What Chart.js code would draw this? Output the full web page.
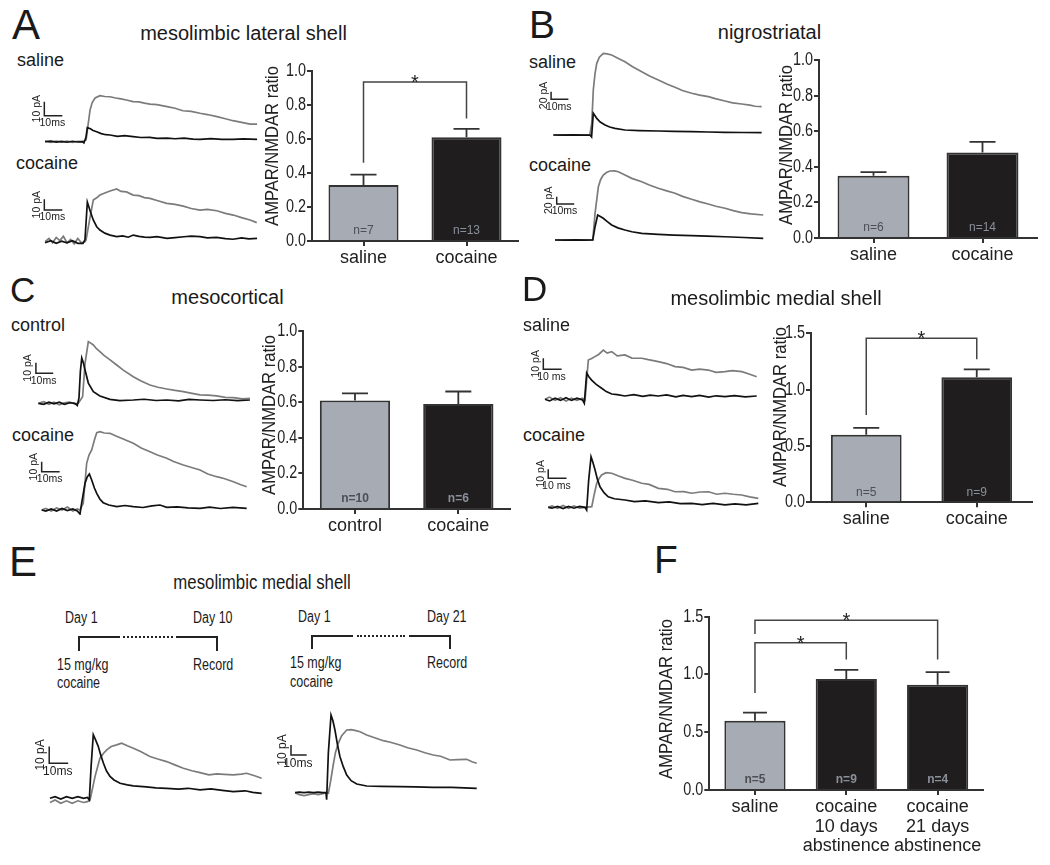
<!DOCTYPE html>
<html><head><meta charset="utf-8">
<script src="https://cdn.jsdelivr.net/npm/chart.js@4.4.1/dist/chart.umd.min.js"></script>
<style>
html,body{margin:0;padding:0;background:#fff;}
#fig{position:relative;width:1050px;height:865px;overflow:hidden;background:#fff;font-family:"Liberation Sans",Arial,Helvetica,sans-serif;color:#1a1a1a;}
#fig canvas{position:absolute;}
.t{position:absolute;white-space:nowrap;line-height:1;}
.ln{position:absolute;box-sizing:content-box;}
</style></head><body><div id="fig"></div>
<script>
// ---------------- BAR DATA ----------------
const A_LABELS = ['saline', 'cocaine'];
const A_VALUES = [0.33, 0.61];
const A_ERR = [0.06, 0.05];
const A_N = ['n=7', 'n=13'];
const A_SIG = [[0, 1, 0.935, 0.46, 0.72]];

const B_LABELS = ['saline', 'cocaine'];
const B_VALUES = [0.35, 0.48];
const B_ERR = [0.02, 0.06];
const B_N = ['n=6', 'n=14'];
const B_SIG = [];

const C_LABELS = ['control', 'cocaine'];
const C_VALUES = [0.61, 0.59];
const C_ERR = [0.04, 0.07];
const C_N = ['n=10', 'n=6'];
const C_SIG = [];

const D_LABELS = ['saline', 'cocaine'];
const D_VALUES = [0.60, 1.11];
const D_ERR = [0.06, 0.07];
const D_N = ['n=5', 'n=9'];
const D_SIG = [[0, 1, 1.455, 0.775, 1.27]];

const F_LABELS = ['saline', ['cocaine', '10 days', 'abstinence'], ['cocaine', '21 days', 'abstinence']];
const F_VALUES = [0.60, 0.96, 0.91];
const F_ERR = [0.07, 0.08, 0.11];
const F_N = ['n=5', 'n=9', 'n=4'];
const F_SIG = [[0, 1, 1.274, 0.84, 1.13], [0, 2, 1.47, 1.35, 1.13]];

const Y_AXIS_TITLE = 'AMPAR/NMDAR ratio';

// ---------------- TRACE DATA (time ms, current pA) ----------------
const A_SAL_GRAY = [[-22.2,0.3],[-19,-0.4],[-16,0.5],[-13,-0.3],[-10,0.4],[-7,-0.5],[-4,0.3],[-1.5,0],[0.6,1.2],[2.8,22.6],[4,28],[5.6,31.2],[8.3,32.9],[11,32.3],[13.9,32.1],[17,31.2],[20,30.6],[23,29.8],[26.7,28.6],[30,28.4],[33,27.5],[36.1,26.9],[40,26.5],[45.6,25.0],[50,23.9],[54.4,22.1],[59,21.6],[63.9,20.3],[68,19.4],[73.3,17.9],[78,16.4],[82.2,15.0],[87,13.8],[91.7,12.6],[95.6,12.6]];
const A_SAL_BLACK = [[-22.2,0],[-19,0.4],[-16,-0.3],[-13,0.2],[-10,-0.4],[-7,0.3],[-4,-0.2],[-1.5,0],[-0.6,-0.9],[0.5,3],[1.3,10.0],[3,9.2],[4.5,8],[6.5,7.1],[9,5.8],[11.5,5.0],[13.9,4.8],[18,3.8],[22,4.3],[26.7,3.6],[31,3.0],[36,3.1],[40,2.4],[45.6,2.6],[50,2.1],[55,2.5],[60,1.8],[63.9,1.7],[70,2.2],[76,1.6],[82.2,1.7],[88,2.0],[95.6,1.7]];
const A_COC_GRAY = [[-22.2,0],[-20,3],[-18,-1],[-16,4],[-14,1],[-12,5],[-10,-1],[-8,2],[-6,-2],[-4,3],[-2,-1],[0,0],[0.6,1.6],[2.5,20],[4.6,39.0],[6.5,41],[8.3,43.6],[11,45.5],[13.9,47.4],[17.6,49.3],[20,47],[23,46.5],[26.8,43.6],[30,43],[33,41.2],[36.1,40.5],[40,38.5],[45.4,35.8],[50,34.8],[54.6,33.3],[59,31],[63.9,29.6],[68,30.2],[73.2,28.9],[78,26.5],[82.4,24.9],[87,22.5],[91.7,20.3],[95.4,17.8]];
const A_COC_BLACK = [[-22.2,-1],[-19,1],[-16,-1.5],[-13,0.5],[-10,-1],[-7,1],[-4,-1.5],[-1.1,-1.5],[0,2],[1.3,37.1],[3,28],[4.6,20.3],[6.5,14],[8.3,10.9],[11,8],[13.9,6.2],[17.6,4.7],[21,5.5],[24,4.2],[26.8,6.2],[30,5],[33,4.3],[36.1,4.0],[40,4.8],[45.6,3.1],[50,3.8],[55,4.6],[59,5.2],[63.9,4.7],[68,3.5],[73,4.0],[78,2.9],[82.2,2.3],[87,3.5],[91,2.6],[95.6,3.1]];

const B_SAL_GRAY = [[-21.6,0],[-16,0.5],[-10,-0.3],[-5,0.4],[-0.5,0],[0.6,30],[1.5,117.5],[2.5,160],[3.5,187.2],[5,203],[7.3,213.3],[9.5,212],[12.1,209.0],[16,200],[19.8,191.4],[24,179],[29.5,165.3],[34,154],[39.1,143.6],[44,133],[48.7,124.5],[53,116],[58.4,108.9],[63,104],[68.0,100.1],[72,95],[77.6,88.8],[82,84],[87.3,80.9],[92,78],[95,75],[98.8,73.9]];
const B_SAL_BLACK = [[-21.6,0],[-16,-0.5],[-10,0.3],[-5,-0.4],[-0.5,0],[0.5,-5],[1.5,56.6],[2.5,50],[3.5,43.5],[5.5,34],[8.3,26.1],[11,21],[14.0,17.4],[19.8,13.1],[28,11.5],[39.1,10.4],[48,9.4],[58.4,8.6],[68,7.8],[77.6,7.0],[88,6.5],[98.8,6.0]];
const B_COC_GRAY = [[-21.9,0],[-16,0.4],[-10,-0.4],[-5,0.3],[-0.3,0],[1.0,72.7],[2.9,145.3],[4.2,165],[5.7,177.1],[7.5,184],[9.5,188.0],[12,188.5],[14.3,186.1],[18.1,177.1],[22,168],[27.7,158.9],[32,150],[37.1,140.9],[42,134],[46.7,127.3],[51,119],[56.2,110.9],[61,104],[65.7,98.1],[70,92],[75.3,86.4],[80,80],[84.8,74.6],[90,71],[97.1,68.1]];
const B_COC_BLACK = [[-21.9,0],[-16,-0.4],[-10,0.4],[-5,-0.3],[-0.3,0],[1.0,36.2],[2.5,68.1],[4,64],[5.7,59.1],[8,50],[10.5,40.9],[14,33],[18.1,27.2],[22,22.5],[27.7,18.2],[37.1,15.5],[46,13.5],[56.2,11.7],[65,10.3],[75.3,8.9],[86,6.8],[97.1,4.6]];

const C_CTL_GRAY = [[-23.1,0],[-20,1.5],[-17,-1],[-14,1],[-11,-1.5],[-8,0.5],[-5,1],[-2,-0.5],[0,0],[2.5,6.2],[3.9,37.4],[5.8,57.6],[7,56.5],[8.7,54.5],[10.5,51],[12.5,48.3],[15,44.5],[18,41],[22.2,35.8],[26,31],[31.8,24.9],[36,21],[41.4,17.1],[46,15],[51.1,13.4],[56,12],[60.7,10.9],[65,9.5],[70.3,7.8],[75,7.6],[79.9,6.9],[85,5.5],[89.6,5.3],[95,4.2],[99.2,4.7]];
const C_CTL_BLACK = [[-23.1,0],[-20,-1],[-17,1],[-14,-0.5],[-11,1],[-8,-1],[-5,0.5],[-2,0],[-0.6,-2],[0.4,5],[1.2,30],[2.0,42.3],[2.9,38],[3.9,31.1],[5.8,18.9],[8.7,10.9],[12.5,6.8],[18.3,3.7],[24,2.5],[31.8,3.1],[38,3.8],[45,2.6],[51.1,3.1],[58,2.2],[64,3.6],[70.3,3.1],[78,2.6],[85,3.3],[92,2.5],[99.2,3.1]];
const C_COC_GRAY = [[-21.3,0],[-19,1.5],[-16,-1],[-13,2],[-10,0],[-7,3],[-4,-1],[-1.5,1],[0,0],[1.8,6.7],[3.7,46.7],[5,55],[6.5,60],[8,70],[9.3,77.3],[11.1,78.3],[13.5,77],[16.7,76.7],[20,74],[24,71],[29.6,66.7],[34,62],[38.9,58.3],[43,55],[48.2,51.7],[52,48.5],[57.4,45],[62,42.5],[66.7,40],[71,36],[75.9,33.3],[80,31.5],[85.2,28.3],[89,25.5],[92.6,23.3]];
const C_COC_BLACK = [[-21.3,0],[-19,-1],[-16,1],[-13,-1],[-10,1.5],[-7,-0.5],[-4,1],[-1.5,-1],[0,-4],[0.9,6.7],[2.8,26.7],[4,33],[5.2,36],[6.5,30],[8,22],[9.3,16.7],[11,11],[12.9,7.3],[16,5],[20.4,3.3],[25,4.5],[29.6,3.3],[35,2.5],[40,4.2],[44.4,5],[48.2,2.7],[54,3.2],[60,2.1],[66.7,1.7],[72,2.8],[78,1.5],[85,2.6],[92.6,1.7]];

const D_SAL_GRAY = [[-21.5,0],[-19,2],[-16,-1],[-13,1.5],[-10,-1.5],[-7,1],[-4,-1],[-1,1],[0.4,-0.6],[2.2,35.7],[4,37],[5.8,38.8],[8,41],[10.4,44.8],[12.5,42],[15.0,43.3],[18,39.5],[22.2,40.3],[26,37.5],[31.4,37.3],[35,36],[40.4,34.3],[45,32.5],[49.6,29.7],[54,29],[58.7,26.6],[63,27.5],[67.8,26.6],[72,24.5],[76.9,25.1],[81,26],[86.1,25.1],[90,23],[94.2,20.5]];
const D_SAL_BLACK = [[-21.5,0],[-19,-1.5],[-16,1],[-13,-1],[-10,1.5],[-7,-1],[-4,1],[-1,-0.5],[0,-3.6],[1.3,23.9],[2.5,20.5],[4.0,17.5],[6.5,13.5],[9.5,10.0],[12,7],[15.0,4.8],[18,4.2],[22.2,3.0],[27,4.2],[32,2.6],[36,3.8],[40.4,3.0],[45,4.0],[50,2.2],[54,3.5],[58.7,2.4],[63,3.6],[68,2.0],[72,3.2],[76.9,2.4],[82,3.4],[88,2.2],[94.2,3.0]];
const D_COC_GRAY = [[-20.1,0],[-18,1.5],[-15,-1],[-12,2],[-9,-1],[-6,1.5],[-3,-1],[0,0],[3.7,0.7],[5,14],[6.4,26.7],[7.7,32],[9.1,35.9],[11.5,38.5],[14.6,37.8],[18,35],[21.9,32.2],[26,30],[31.0,26.7],[35,25.5],[40.1,21.1],[45,20],[49.2,17.3],[54,17.5],[58.3,15.6],[63,17],[67.5,17.3],[72,14.5],[76.5,15.6],[81,14.5],[85.6,13.7],[90,11.5],[94.7,10.0]];
const D_COC_BLACK = [[-20.1,0],[-18,-1],[-15,1],[-12,-1.5],[-9,1],[-6,-1],[-3,1],[0,0],[0.9,-3],[2,30],[3.3,56.2],[4.3,50],[5.5,41.4],[6.8,31],[8.2,22.8],[10.5,16],[12.7,11.7],[16,9.5],[21.9,8.1],[27,6.3],[33,7.2],[40.1,5.1],[46,6.0],[52,4.0],[58.3,4.4],[64,3.0],[70,4.4],[76.5,2.6],[82,3.8],[88,2.8],[94.7,4.4]];

const E10_GRAY = [[-20.7,-2.5],[-18,-1],[-15,-3],[-12,-1.5],[-9,-3],[-6,-1.5],[-3,-2.5],[-1,-2],[0.4,-1],[3.0,13.0],[5.6,24.0],[7.5,27],[9.2,29.0],[11.5,31],[14.4,32.0],[17,33],[20,31.5],[23.2,30.0],[27,28],[31.9,25.0],[36,23.5],[40.7,22.0],[45,20],[49.5,18.0],[54,16.5],[58.3,15.4],[63,14],[67.1,14.6],[71,14.3],[75.8,14.0],[80,14.5],[82.8,15.0],[87,13.5],[90.7,12.0]];
const E10_BLACK = [[-20.7,0],[-18,1],[-15,-0.5],[-12,1],[-9,0],[-6,1],[-3,0],[-1,0.5],[0,-1],[1,20],[2.1,38.1],[3.3,35],[4.7,31.1],[6,26],[7.4,21.1],[9,16.5],[10.9,13.1],[13,11],[16.2,9.0],[20,8],[23.2,7.4],[30,6.8],[35,6.2],[40.7,6.0],[47,5.5],[52,6.0],[58.3,5.0],[64,5.6],[70,4.8],[75.8,4.0],[82,4.5],[86,3.5],[90.7,3.0]];
const E21_GRAY = [[-19.7,0],[-17,-2],[-14,-3],[-11,-2],[-8,-1],[-5,-2],[-2,-1],[0,0],[1.5,-0.6],[3,12],[4.6,27.7],[6,40],[7.8,49.4],[10,57],[13.2,62.7],[16,63],[19,62],[21.7,61.0],[25.9,57.7],[31,55],[36.5,52.0],[41,50.5],[47.1,47.7],[52,45],[57.8,42.7],[63,40],[68.3,37.7],[73,36.5],[79.0,32.7],[84,33],[89.6,33.4],[93,31],[96.0,29.4]];
const E21_BLACK = [[-19.7,0],[-17,0.5],[-14,0],[-11,0.5],[-8,0],[-5,0.5],[-2,0],[0,0],[0.4,-7],[1.5,40],[3.2,77.7],[4.4,72],[5.7,62.7],[7.3,48],[8.9,36],[11,26],[13.2,17.7],[16,12],[19.6,8.7],[25.9,6.7],[35,6.4],[47.1,6.0],[57,5.8],[68.3,5.4],[80,5.4],[88,4.8],[96.0,4.4]];

// ---------------- helpers ----------------
const FONT = '"Liberation Sans", Arial, Helvetica, sans-serif';
const fig = document.getElementById('fig');
const GRAY_BAR = '#a6abb4', BLACK_BAR = '#1f1d1e';
const N_ON_GRAY = '#4d4f55', N_ON_BLACK = '#8a909a';

function txt(s, x, yc, size, opt) {
  opt = opt || {};
  const d = document.createElement('div');
  d.className = 't';
  d.textContent = s;
  d.style.fontSize = size + 'px';
  d.style.left = x + 'px';
  d.style.top = (yc - size / 2) + 'px';
  const sx = opt.sx || 1;
  if (opt.center) { d.style.transform = 'translateX(-50%) scaleX(' + sx + ')'; d.style.transformOrigin = 'center'; }
  else if (sx !== 1) { d.style.transform = 'scaleX(' + sx + ')'; d.style.transformOrigin = 'left center'; }
  fig.appendChild(d);
}
function hline(x1, x2, y, style) {
  const d = document.createElement('div'); d.className = 'ln';
  d.style.left = x1 + 'px'; d.style.top = (y - 1) + 'px'; d.style.width = (x2 - x1) + 'px'; d.style.height = '0';
  d.style.borderTop = '2px ' + (style || 'solid') + ' #222'; fig.appendChild(d);
}
function vline(x, y1, y2) {
  const d = document.createElement('div'); d.className = 'ln';
  d.style.left = (x - 1) + 'px'; d.style.top = y1 + 'px'; d.style.width = '0'; d.style.height = (y2 - y1) + 'px';
  d.style.borderLeft = '2px solid #222'; fig.appendChild(d);
}
function mkCanvas(box) {
  const c = document.createElement('canvas');
  c.width = box[2]; c.height = box[3];
  c.style.left = box[0] + 'px'; c.style.top = box[1] + 'px';
  c.style.width = box[2] + 'px'; c.style.height = box[3] + 'px';
  fig.appendChild(c);
  return c;
}

const barExtras = {
  id: 'barExtras',
  afterDatasetsDraw(chart, args, o) {
    const ctx = chart.ctx, meta = chart.getDatasetMeta(0), ys = chart.scales.y;
    ctx.save();
    ctx.strokeStyle = '#333'; ctx.lineWidth = 1.8;
    o.values.forEach((v, i) => {
      const x = meta.data[i].x;
      const y0 = ys.getPixelForValue(v), y1 = ys.getPixelForValue(v + o.errs[i]);
      ctx.beginPath();
      ctx.moveTo(x, y0); ctx.lineTo(x, y1);
      ctx.moveTo(x - o.cap / 2, y1); ctx.lineTo(x + o.cap / 2, y1);
      ctx.stroke();
      ctx.font = (o.nBold ? 'bold ' : '') + '12px ' + FONT;
      ctx.fillStyle = o.nColors[i]; ctx.textAlign = 'center'; ctx.textBaseline = 'middle';
      ctx.fillText(o.ns[i], x, ys.getPixelForValue(0) - 10);
    });
    ctx.lineWidth = 1.5; ctx.strokeStyle = '#444';
    o.sig.forEach(([a, b, yv, ya, yb]) => {
      const xa = meta.data[a].x, xb = meta.data[b].x, y = ys.getPixelForValue(yv);
      ctx.beginPath();
      ctx.moveTo(xa, ys.getPixelForValue(ya)); ctx.lineTo(xa, y); ctx.lineTo(xb, y); ctx.lineTo(xb, ys.getPixelForValue(yb));
      ctx.stroke();
      ctx.font = '20px ' + FONT; ctx.fillStyle = '#222'; ctx.textAlign = 'center'; ctx.textBaseline = 'alphabetic';
      ctx.fillText('*', (xa + xb) / 2, y + 7);
    });
    // y tick labels: tall but condensed numerals, positioned by the library's y scale
    ctx.font = '18px ' + FONT; ctx.fillStyle = '#222'; ctx.textAlign = 'right'; ctx.textBaseline = 'middle';
    ys.ticks.forEach(tk => {
      const py = ys.getPixelForValue(tk.value);
      ctx.save();
      ctx.translate(ys.right - 6, py);
      ctx.scale(0.8, 1);
      ctx.fillText(Number(tk.value).toFixed(1), 0, 0);
      ctx.restore();
    });
    // y-axis title, placed at the page position measured on the reference
    ctx.save();
    ctx.translate(o.title.x, o.title.y);
    ctx.rotate(-Math.PI / 2);
    ctx.scale(0.92, 1);
    ctx.font = '18px ' + FONT; ctx.fillStyle = '#222'; ctx.textAlign = 'center'; ctx.textBaseline = 'middle';
    ctx.fillText(o.title.text, 0, 0);
    ctx.restore();
    ctx.restore();
  }
};

function barChart(box, area, labels, values, errs, ns, colors, cfg) {
  const cv = mkCanvas(box);
  const padTop = area[1] - box[1], padRight = box[0] + box[2] - area[2];
  const yW = area[0] - box[0], xH = box[1] + box[3] - area[3];
  new Chart(cv, {
    type: 'bar',
    data: { labels: labels, datasets: [{ data: values, backgroundColor: colors, borderColor: '#333', borderWidth: 2, borderSkipped: 'start', barPercentage: cfg.barPct, categoryPercentage: 1 }] },
    options: {
      responsive: false, animation: false, devicePixelRatio: 1,
      layout: { padding: { top: padTop, right: padRight, left: 0, bottom: 0 } },
      plugins: {
        legend: { display: false }, tooltip: { enabled: false },
        barExtras: { values: values, errs: errs, ns: ns, nBold: cfg.nBold, cap: cfg.cap || 26,
          nColors: colors.map(c => c === GRAY_BAR ? N_ON_GRAY : N_ON_BLACK), sig: cfg.sig,
          title: { text: Y_AXIS_TITLE, x: cfg.title[0] - box[0], y: cfg.title[1] - box[1] } }
      },
      scales: {
        x: {
          offset: true,
          grid: { display: true, drawOnChartArea: false, offset: false, tickLength: 5, color: '#333', lineWidth: 2 },
          border: { color: '#333', width: 2 },
          ticks: { font: { size: 18, family: FONT, lineHeight: 1.1 }, color: '#222', padding: 2, maxRotation: 0, autoSkip: false },
          afterFit: s => { s.height = xH; }
        },
        y: {
          min: 0, max: cfg.yMax,
          grid: { drawOnChartArea: false, drawTicks: true, tickLength: 5, color: '#333', lineWidth: 2 },
          border: { color: '#333', width: 2 },
          ticks: { stepSize: cfg.step, display: false },
          title: { display: false },
          afterFit: s => { s.width = yW; }
        }
      }
    },
    plugins: [barExtras]
  });
}

const sbLabels = {
  id: 'sbLabels',
  afterDatasetsDraw(chart, args, o) {
    const xs = chart.scales.x, ys = chart.scales.y, ctx = chart.ctx;
    const x = xs.getPixelForValue(o.t), xr = xs.getPixelForValue(o.t + o.dt);
    const yb = ys.getPixelForValue(o.i), yt = ys.getPixelForValue(o.i + o.di);
    ctx.save();
    ctx.fillStyle = '#222'; ctx.font = o.fs + 'px ' + FONT; ctx.textAlign = 'center'; ctx.textBaseline = 'middle';
    ctx.fillText(o.tLabel, (x + xr) / 2 - 1, yb + o.fs * 0.7);
    ctx.translate(x - o.fs * 0.7, (yb + yt) / 2);
    ctx.rotate(-Math.PI / 2);
    ctx.fillText(o.iLabel, 0, 0);
    ctx.restore();
  }
};

function traceChart(box, cal, black, gray, sb) {
  const cv = mkCanvas(box);
  const xmin = (box[0] - cal.t0) / cal.pxMs, xmax = (box[0] + box[2] - cal.t0) / cal.pxMs;
  const ymax = (cal.i0 - box[1]) / cal.pxPA, ymin = (cal.i0 - (box[1] + box[3])) / cal.pxPA;
  const pts = a => a.map(p => ({ x: p[0], y: p[1] }));
  const bar = [{ x: sb.t, y: sb.i + sb.di }, { x: sb.t, y: sb.i }, { x: sb.t + sb.dt, y: sb.i }];
  new Chart(cv, {
    type: 'line',
    data: { datasets: [
      { data: pts(black), borderColor: '#111', borderWidth: 1.7, pointRadius: 0, tension: 0, fill: false },
      { data: pts(gray), borderColor: '#7b7b7b', borderWidth: 1.7, pointRadius: 0, tension: 0, fill: false },
      { data: bar, borderColor: '#222', borderWidth: 1.5, pointRadius: 0, tension: 0, fill: false }
    ] },
    options: {
      responsive: false, animation: false, devicePixelRatio: 1,
      layout: { padding: 0 },
      plugins: { legend: { display: false }, tooltip: { enabled: false },
        sbLabels: { t: sb.t, i: sb.i, dt: sb.dt, di: sb.di, fs: sb.fs || 10.5, tLabel: sb.tLabel || '10ms', iLabel: sb.iLabel || '10 pA' } },
      scales: {
        x: { type: 'linear', min: xmin, max: xmax, display: false },
        y: { type: 'linear', min: ymin, max: ymax, display: false }
      }
    },
    plugins: [sbLabels]
  });
}

// ---------------- PANEL A ----------------
txt('A', 12, 25, 42);
txt('mesolimbic lateral shell', 243.5, 33, 20, { center: true });
txt('saline', 17, 60, 18);
txt('cocaine', 16, 163, 18);
traceChart([20, 88, 245, 62], { t0: 85, pxMs: 1.8, i0: 141.7, pxPA: 1.4 }, A_SAL_BLACK, A_SAL_GRAY, { t: -22.6, i: 18.6, dt: 10, di: 10 });
traceChart([20, 180, 245, 70], { t0: 85, pxMs: 1.8, i0: 241.7, pxPA: 1.07 }, A_COC_BLACK, A_COC_GRAY, { t: -22.6, i: 29.6, dt: 10, di: 10 });
barChart([255, 55, 270, 220], [312, 71, 518, 241], A_LABELS, A_VALUES, A_ERR, A_N, [GRAY_BAR, BLACK_BAR],
  { yMax: 1.0, step: 0.2, barPct: 0.68, title: [273, 146], sig: A_SIG, nBold: false });

// ---------------- PANEL B ----------------
txt('B', 529, 24, 39);
txt('nigrostriatal', 769.5, 32, 20, { center: true });
txt('saline', 529, 62, 18);
txt('cocaine', 529, 165, 18);
traceChart([525, 45, 245, 97], { t0: 590.7, pxMs: 1.73, i0: 135, pxPA: 0.383 }, B_SAL_BLACK, B_SAL_GRAY, { t: -22.9, i: 93.2, dt: 10, di: 20, iLabel: '20 pA' });
traceChart([525, 160, 245, 88], { t0: 593.3, pxMs: 1.75, i0: 240, pxPA: 0.367 }, B_COC_BLACK, B_COC_GRAY, { t: -20.9, i: 98.1, dt: 10, di: 20, iLabel: '20 pA' });
barChart([760, 44, 285, 231], [819, 60, 1037, 238], B_LABELS, B_VALUES, B_ERR, B_N, [GRAY_BAR, BLACK_BAR],
  { yMax: 1.0, step: 0.2, barPct: 0.66, title: [787, 145], sig: B_SIG, nBold: false });

// ---------------- PANEL C ----------------
txt('C', 10, 289, 35);
txt('mesocortical', 227.5, 297, 20, { center: true });
txt('control', 11, 325, 18);
txt('cocaine', 12, 435, 18);
traceChart([5, 330, 250, 80], { t0: 78.3, pxMs: 1.73, i0: 403.3, pxPA: 1.07 }, C_CTL_BLACK, C_CTL_GRAY, { t: -24.5, i: 28.0, dt: 10, di: 10 });
traceChart([5, 425, 250, 90], { t0: 80, pxMs: 1.8, i0: 510, pxPA: 1.0 }, C_COC_BLACK, C_COC_GRAY, { t: -21.3, i: 38.3, dt: 10, di: 10 });
barChart([245, 315, 272, 225], [303.3, 331, 510, 509], C_LABELS, C_VALUES, C_ERR, C_N, [GRAY_BAR, BLACK_BAR],
  { yMax: 1.0, step: 0.2, barPct: 0.68, title: [270, 415], sig: C_SIG, nBold: true });

// ---------------- PANEL D ----------------
txt('D', 522, 288, 35);
txt('mesolimbic medial shell', 776, 298, 20, { center: true });
txt('saline', 523, 325, 18);
txt('cocaine', 523, 435, 18);
traceChart([518, 340, 245, 66], { t0: 584.3, pxMs: 1.83, i0: 399.3, pxPA: 1.1 }, D_SAL_BLACK, D_SAL_GRAY, { t: -22.4, i: 27.3, dt: 10, di: 10, tLabel: '10 ms' });
traceChart([518, 445, 245, 70], { t0: 585, pxMs: 1.83, i0: 507.3, pxPA: 0.9 }, D_COC_BLACK, D_COC_GRAY, { t: -20.1, i: 32.2, dt: 10, di: 10, tLabel: '10 ms' });
barChart([750, 318, 290, 215], [811, 333.3, 1032, 502.3], D_LABELS, D_VALUES, D_ERR, D_N, [GRAY_BAR, BLACK_BAR],
  { yMax: 1.5, step: 0.5, barPct: 0.64, title: [781, 407], sig: D_SIG, nBold: false });

// ---------------- PANEL E ----------------
txt('E', 9, 562, 42);
txt('mesolimbic medial shell', 261.5, 582, 20, { center: true, sx: 0.84 });
const SX = 0.78;
txt('Day 1', 65, 618, 16, { sx: SX });
txt('Day 10', 193, 618, 16, { sx: SX });
txt('15 mg/kg', 57, 665, 16, { sx: SX });
txt('cocaine', 57, 683, 16, { sx: SX });
txt('Record', 193, 665, 16, { sx: SX });
vline(79, 636, 651); hline(79, 120, 637); hline(123, 173, 637, 'dotted'); hline(176, 217, 637); vline(217, 636, 651);
txt('Day 1', 298, 617, 16, { sx: SX });
txt('Day 21', 427, 617, 16, { sx: SX });
txt('15 mg/kg', 290, 663, 16, { sx: SX });
txt('cocaine', 290, 682, 16, { sx: SX });
txt('Record', 427, 663, 16, { sx: SX });
vline(312, 635, 649); hline(312, 353, 636); hline(357, 405, 636, 'dotted'); hline(409, 450, 636); vline(450, 635, 649);
traceChart([25, 725, 245, 82], { t0: 89.3, pxMs: 1.9, i0: 798.3, pxPA: 1.67 }, E10_BLACK, E10_GRAY, { t: -21.1, i: 21.0, dt: 10, di: 10, fs: 12 });
traceChart([270, 705, 215, 100], { t0: 326, pxMs: 1.57, i0: 792.7, pxPA: 1.0 }, E21_BLACK, E21_GRAY, { t: -22.3, i: 37.7, dt: 10, di: 10, fs: 12 });

// ---------------- PANEL F ----------------
txt('F', 654, 559, 39);
barChart([650, 600, 340, 265], [709.3, 616.7, 983.3, 790], F_LABELS, F_VALUES, F_ERR, F_N, [GRAY_BAR, BLACK_BAR, BLACK_BAR],
  { yMax: 1.5, step: 0.5, barPct: 0.67, title: [667, 699], sig: F_SIG, nBold: true, cap: 24 });
</script></body></html>
